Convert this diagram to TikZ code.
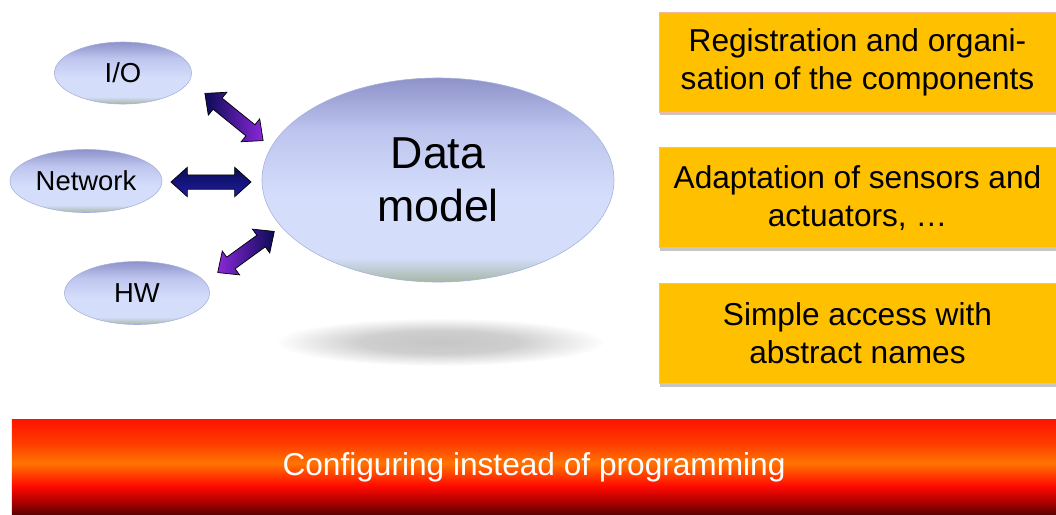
\documentclass[tikz,border=0pt]{standalone}
\usepackage{fontspec}
\setmainfont{Liberation Sans}
\usetikzlibrary{positioning,shapes.geometric,shapes.arrows,shadows}
\definecolor{gold}{HTML}{FFC000}
\definecolor{goldedge}{HTML}{F2B8A0}
\definecolor{rim}{HTML}{A4B0DA}
\definecolor{sage}{HTML}{A7B7A6}
\definecolor{skyhi}{HTML}{D4DEFB}
\definecolor{skymid}{HTML}{BEC5EE}
\definecolor{lav}{HTML}{8E92CA}
\definecolor{navy}{HTML}{0B0B55}
\definecolor{violet}{HTML}{8A28DA}
\definecolor{ink}{HTML}{1E1EA0}
\definecolor{maroon}{HTML}{5C0000}
\definecolor{crimson}{HTML}{B00000}
\definecolor{redlow}{HTML}{FF0A00}
\definecolor{tang}{HTML}{FF7400}
\definecolor{redmid}{HTML}{FF3A00}
\definecolor{redtop}{HTML}{FF1400}
\pgfdeclareverticalshading{blobshade}{100bp}{color(0bp)=(sage); color(25bp)=(sage); color(31bp)=(skyhi); color(46bp)=(skyhi); color(62bp)=(skymid); color(75bp)=(lav); color(100bp)=(lav)}
\pgfdeclareverticalshading{barshade}{100bp}{color(0bp)=(maroon); color(25bp)=(maroon); color(32bp)=(crimson); color(40bp)=(redlow); color(52bp)=(tang); color(63bp)=(redmid); color(75bp)=(redtop); color(100bp)=(redtop)}
\pgfdeclareradialshading{blurshade}{\pgfpoint{0bp}{0bp}}{color(0bp)=(gray!45); color(12bp)=(gray!38); color(25bp)=(white); color(50bp)=(white)}
\tikzset{blob/.style={ellipse,draw=rim,line width=0.4pt,shading=blobshade,inner sep=0pt,align=center,font=\fontsize{19.5}{23}\selectfont},
         task/.style={rectangle,fill=gold,draw=goldedge,line width=0.3pt,align=center,inner sep=0pt,
                      minimum width=9.925cm,minimum height=2.5cm,font=\fontsize{22.5}{27}\selectfont,
                      drop shadow={shadow xshift=0.6pt,shadow yshift=-2.4pt,opacity=.45,fill=gray}},
         fat/.style={double arrow,draw=black,line width=0.5pt,inner xsep=0pt,inner ysep=0.17cm,
                     double arrow head extend=0.19cm,double arrow tip angle=84},
         bar/.style={rectangle,shading=barshade,inner sep=0pt,minimum width=26.1cm,minimum height=2.375cm,
                     text=white,font=\fontsize{22.5}{27}\selectfont}}

\begin{document}
\begin{tikzpicture}[x=0.025cm,y=-0.025cm,node distance=0.88cm]
 \useasboundingbox (0,0) rectangle (1056,514);
 % shadow under the data model
 \shade[shading=blurshade] (440,342) ellipse (165 and 24);
 % data model and its sources
 \node[blob,minimum width=8.8cm,minimum height=5.1cm,font=\fontsize{31.8}{37.6}\selectfont] (dm) at (438,180) {Data\\model};
 \node[blob,minimum width=3.425cm,minimum height=1.55cm] (io) at (123,73) {I/O};
 \node[blob,minimum width=3.8cm,minimum height=1.575cm] (net) at (86,181) {Network};
 \node[blob,minimum width=3.625cm,minimum height=1.575cm] (hw) at (137,293) {HW};
 \node[fat,minimum height=1.875cm,rotate=-39,left color=navy,middle color=ink,right color=violet] (a1) at (234,117) {};
 \node[fat,minimum height=2cm,top color=navy,bottom color=ink] (a2) at (211,182) {};
 \node[fat,minimum height=1.75cm,rotate=36,left color=violet,middle color=ink,right color=navy] (a3) at (246,252) {};
 % what it does
 \node[task] (reg) at (857.5,62) {Registration and organi-\\sation of the components};
 \node[task,below=of reg] (adp) {Adaptation of sensors and\\actuators, \dots};
 \node[task,below=of adp] (acc) {Simple access with\\abstract names};
 \node[bar] (cfg) at (534,467) {Configuring instead of programming};
\end{tikzpicture}
\end{document}
